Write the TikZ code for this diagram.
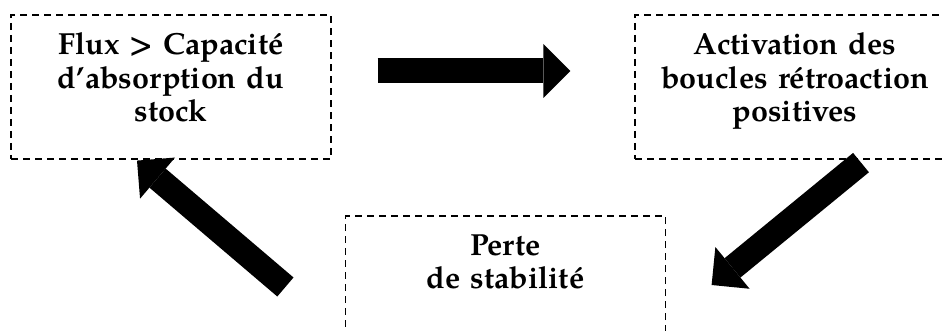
\documentclass[tikz,border=0pt]{standalone}
\usepackage{fontspec}
\setmainfont{TeX Gyre Pagella}
\usepackage{tikz}
\usetikzlibrary{arrows.meta,positioning,calc}

\begin{document}
\begin{tikzpicture}[
    x=1pt, y=-1pt,
    dashbox/.style={rectangle, draw, line width=1.2pt, dash pattern=on 7pt off 5pt, minimum width=320pt, minimum height=144pt, text width=310pt, text depth=86pt, align=center, inner sep=0pt, font=\fontsize{30.5}{33.5}\selectfont\bfseries},
    bigarrow/.style={line width=25pt, -{Triangle[length=27pt,width=54pt,line width=0pt]}}
]
\useasboundingbox (0,0) rectangle (944,331);

% Boxes
\node[dashbox] (flux) at (171,87) {Flux > Capacité\\d’absorption du\\stock};
\node[dashbox] (retro) at (795,87) {Activation des\\boucles rétroaction\\positives};
\node[dashbox] (perte) at (505.5,288) {Perte\\de stabilité\\\mbox{}};

% Arrow ends
\coordinate (fluxout) at ($(flux.east)+(46,-16)$);
\coordinate (retroin) at ($(retro.west)+(-64,-16)$);
\coordinate (retroout) at ($(retro.south)+(66,3)$);
\coordinate (perteinn) at ($(perte.east)+(45.5,-3)$);
\coordinate (perteout) at ($(perte.west)+(-59.5,-1)$);
\coordinate (fluxin) at ($(flux.south)+(-34,1)$);

% Cycle
\draw[bigarrow] (fluxout) -- (retroin);
\draw[bigarrow] (retroout) -- (perteinn);
\draw[bigarrow] (perteout) -- (fluxin);

\end{tikzpicture}
\end{document}
